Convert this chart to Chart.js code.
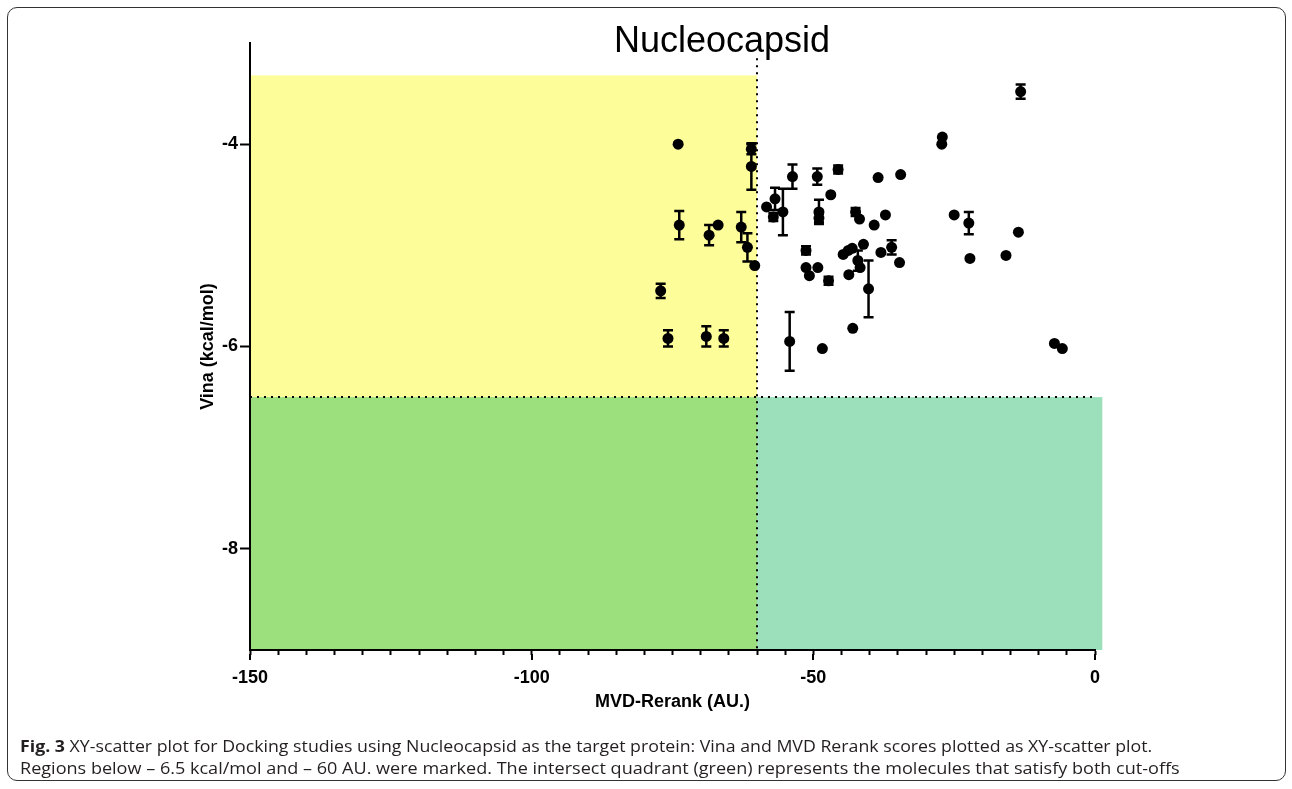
<!DOCTYPE html>
<html>
<head>
<meta charset="utf-8">
<script src="https://cdn.jsdelivr.net/npm/chart.js@4.4.1/dist/chart.umd.min.js"></script>
<style>
  html, body { margin: 0; padding: 0; background: #fff; }
  #wrap { position: relative; width: 1292px; height: 789px; overflow: hidden; }
  #frame { position: absolute; left: 7px; top: 7px; width: 1279px; height: 774px;
           border: 1.5px solid #333; border-radius: 10px; box-sizing: border-box; }
  canvas { position: absolute; left: 0; top: 0; }
  .cap { position: absolute; left: 20px; font-family: "Open Sans", sans-serif; font-size: 16.5px;
         color: #231f20; white-space: nowrap; transform-origin: 0 0; }
</style>
</head>
<body>
<div id="wrap">
  <div id="frame"></div>
  <canvas id="chart" width="1292" height="789"></canvas>
  <div class="cap" id="cap1" style="top:734px"><b>Fig. 3</b> XY-scatter plot for Docking studies using Nucleocapsid as the target protein: Vina and MVD Rerank scores plotted as XY-scatter plot.</div>
  <div class="cap" id="cap2" style="top:756px">Regions below – 6.5 kcal/mol and – 60 AU. were marked. The intersect quadrant (green) represents the molecules that satisfy both cut-offs</div>
</div>
<script>
// MVD rerank score (x), Vina score (y) and the Vina error (SD) for each molecule
const mvdRerank = [
  -74.0, -61.0, -61.0, -73.8, -68.5, -66.9, -62.8, -61.7, -60.4, -77.1,
  -75.8, -69.0, -65.9, -54.2, -58.3, -56.8, -57.1, -55.4, -53.7, -49.3,
  -45.6, -46.9, -49.0, -49.0, -42.5, -41.8, -38.5, -34.5, -39.2, -37.2,
  -51.3, -51.3, -50.7, -49.2, -47.3, -44.7, -43.8, -43.1, -41.1, -42.1,
  -41.7, -43.7, -40.2, -43.0, -48.4, -38.0, -36.1, -34.7, -27.1, -27.2,
  -13.2, -25.0, -22.4, -13.6, -22.2, -15.8, -7.2, -5.8
];
const vinaScore = [
  -4.00, -4.05, -4.22, -4.80, -4.90, -4.80, -4.82, -5.02, -5.20, -5.45,
  -5.92, -5.90, -5.92, -5.95, -4.62, -4.54, -4.72, -4.67, -4.32, -4.32,
  -4.25, -4.50, -4.67, -4.73, -4.67, -4.74, -4.33, -4.30, -4.80, -4.70,
  -5.05, -5.22, -5.30, -5.22, -5.35, -5.09, -5.05, -5.03, -4.99, -5.15,
  -5.22, -5.29, -5.43, -5.82, -6.02, -5.07, -5.02, -5.17, -3.93, -4.00,
  -3.48, -4.70, -4.78, -4.87, -5.13, -5.10, -5.97, -6.02
];
const vinaError = [
  0, 0.05, 0.23, 0.14, 0.10, 0, 0.15, 0.14, 0, 0.07,
  0.08, 0.10, 0.08, 0.29, 0, 0.11, 0.04, 0.23, 0.12, 0.08,
  0.04, 0, 0.12, 0.04, 0.04, 0, 0, 0, 0, 0,
  0.04, 0, 0, 0, 0.04, 0, 0, 0, 0, 0.10,
  0, 0, 0.28, 0, 0, 0, 0.07, 0, 0, 0,
  0.07, 0, 0.11, 0, 0, 0, 0, 0
];
const xTickLabels = [-150, -100, -50, 0];
const yTickValues = [-8, -6, -4];

// cut-offs and the shaded quadrants
const MVD_CUTOFF = -60;
const VINA_CUTOFF = -6.5;
const X_MIN = -150, X_MAX = 0, Y_MIN = -9, Y_MAX = -3;
const SHADE_TOP = -3.32, SHADE_RIGHT = 1.3, CUTLINE_TOP = -3.15;

const FONT = 'Liberation Sans, Arial, sans-serif';

const points = mvdRerank.map((x, i) => ({ x: x, y: vinaScore[i] }));

const quadrants = {
  id: 'quadrants',
  beforeDraw(chart) {
    const { ctx, scales: { x, y } } = chart;
    const rect = (x0, x1, y0, y1, color) => {
      const l = x.getPixelForValue(x0), r = x.getPixelForValue(x1);
      const t = y.getPixelForValue(y1), b = y.getPixelForValue(y0);
      ctx.fillStyle = color;
      ctx.fillRect(l, t, r - l, b - t);
    };
    ctx.save();
    rect(X_MIN, MVD_CUTOFF, VINA_CUTOFF, SHADE_TOP, '#fdfd99');
    rect(X_MIN, MVD_CUTOFF, Y_MIN, VINA_CUTOFF, '#9ce07e');
    rect(MVD_CUTOFF, SHADE_RIGHT, Y_MIN, VINA_CUTOFF, '#9ce0bb');
    ctx.restore();
  },
  beforeDatasetsDraw(chart) {
    const { ctx, scales: { x, y } } = chart;
    ctx.save();
    ctx.strokeStyle = '#000';
    ctx.lineWidth = 2;
    ctx.setLineDash([2, 5]);
    const cx = x.getPixelForValue(MVD_CUTOFF);
    ctx.beginPath();
    ctx.moveTo(cx, y.getPixelForValue(CUTLINE_TOP));
    ctx.lineTo(cx, y.getPixelForValue(Y_MIN));
    ctx.stroke();
    const cy = y.getPixelForValue(VINA_CUTOFF);
    ctx.beginPath();
    ctx.moveTo(x.getPixelForValue(X_MIN), cy);
    ctx.lineTo(x.getPixelForValue(X_MAX), cy);
    ctx.stroke();

    // major x ticks are longer than the minor ones
    ctx.setLineDash([]);
    const base = y.getPixelForValue(Y_MIN);
    xTickLabels.forEach(v => {
      const px = Math.round(x.getPixelForValue(v));
      ctx.beginPath();
      ctx.moveTo(px, base + 4);
      ctx.lineTo(px, base + 10);
      ctx.stroke();
    });
    ctx.restore();
  }
};

const errorBars = {
  id: 'errorBars',
  beforeDatasetsDraw(chart) {
    const { ctx, scales: { x, y } } = chart;
    ctx.save();
    ctx.strokeStyle = '#000';
    ctx.lineWidth = 2.5;
    vinaError.forEach((e, i) => {
      if (!e) return;
      const px = x.getPixelForValue(mvdRerank[i]);
      const top = y.getPixelForValue(vinaScore[i] + e);
      const bot = y.getPixelForValue(vinaScore[i] - e);
      ctx.beginPath();
      ctx.moveTo(px, top); ctx.lineTo(px, bot);
      ctx.moveTo(px - 5, top); ctx.lineTo(px + 5, top);
      ctx.moveTo(px - 5, bot); ctx.lineTo(px + 5, bot);
      ctx.stroke();
    });
    ctx.restore();
  }
};

const plotTitle = {
  id: 'plotTitle',
  afterDraw(chart) {
    const ctx = chart.ctx;
    ctx.save();
    ctx.font = '36px ' + FONT;
    ctx.fillStyle = '#000';
    ctx.textAlign = 'center';
    ctx.textBaseline = 'middle';
    ctx.fillText('Nucleocapsid', 722, 42);
    ctx.restore();
  }
};

const tickFont = { family: FONT, size: 18, weight: 'bold' };

new Chart(document.getElementById('chart').getContext('2d'), {
  type: 'scatter',
  data: {
    datasets: [{
      label: 'Nucleocapsid',
      data: points,
      backgroundColor: '#000',
      borderColor: '#000',
      pointRadius: 5.5,
      pointHoverRadius: 5.5,
      borderWidth: 0
    }]
  },
  options: {
    responsive: false,
    animation: false,
    events: [],
    layout: { padding: { top: 43, right: 197, left: 0, bottom: 0 } },
    plugins: {
      legend: { display: false },
      tooltip: { enabled: false }
    },
    scales: {
      x: {
        type: 'linear',
        min: X_MIN,
        max: X_MAX,
        afterFit(scale) { scale.height = 139; },
        ticks: {
          stepSize: 5,
          autoSkip: false,
          maxRotation: 0,
          padding: 12,
          color: '#000',
          font: tickFont,
          callback: v => xTickLabels.includes(v) ? String(v) : ''
        },
        grid: { drawOnChartArea: false, tickLength: 5, tickWidth: 2, tickColor: '#000' },
        border: { color: '#000', width: 2 },
        title: {
          display: true,
          text: 'MVD-Rerank (AU.)',
          color: '#000',
          font: tickFont,
          padding: { top: 0, bottom: 76 }
        }
      },
      y: {
        type: 'linear',
        min: Y_MIN,
        max: Y_MAX,
        afterBuildTicks(scale) { scale.ticks = yTickValues.map(v => ({ value: v })); },
        afterFit(scale) { scale.width = 250; },
        ticks: { padding: 2, color: '#000', font: tickFont },
        grid: { drawOnChartArea: false, tickLength: 10, tickWidth: 2, tickColor: '#000' },
        border: { color: '#000', width: 2 },
        title: {
          display: true,
          text: 'Vina (kcal/mol)',
          color: '#000',
          font: tickFont,
          padding: { top: 197, bottom: 0 }
        }
      }
    }
  },
  plugins: [quadrants, errorBars, plotTitle]
});

// squeeze the caption lines to the width they take in the figure
function fitCaption(id, width) {
  const el = document.getElementById(id);
  el.style.transform = 'scaleX(' + (width / el.scrollWidth) + ')';
}
fitCaption('cap1', 1132);
fitCaption('cap2', 1160);
</script>
</body>
</html>
